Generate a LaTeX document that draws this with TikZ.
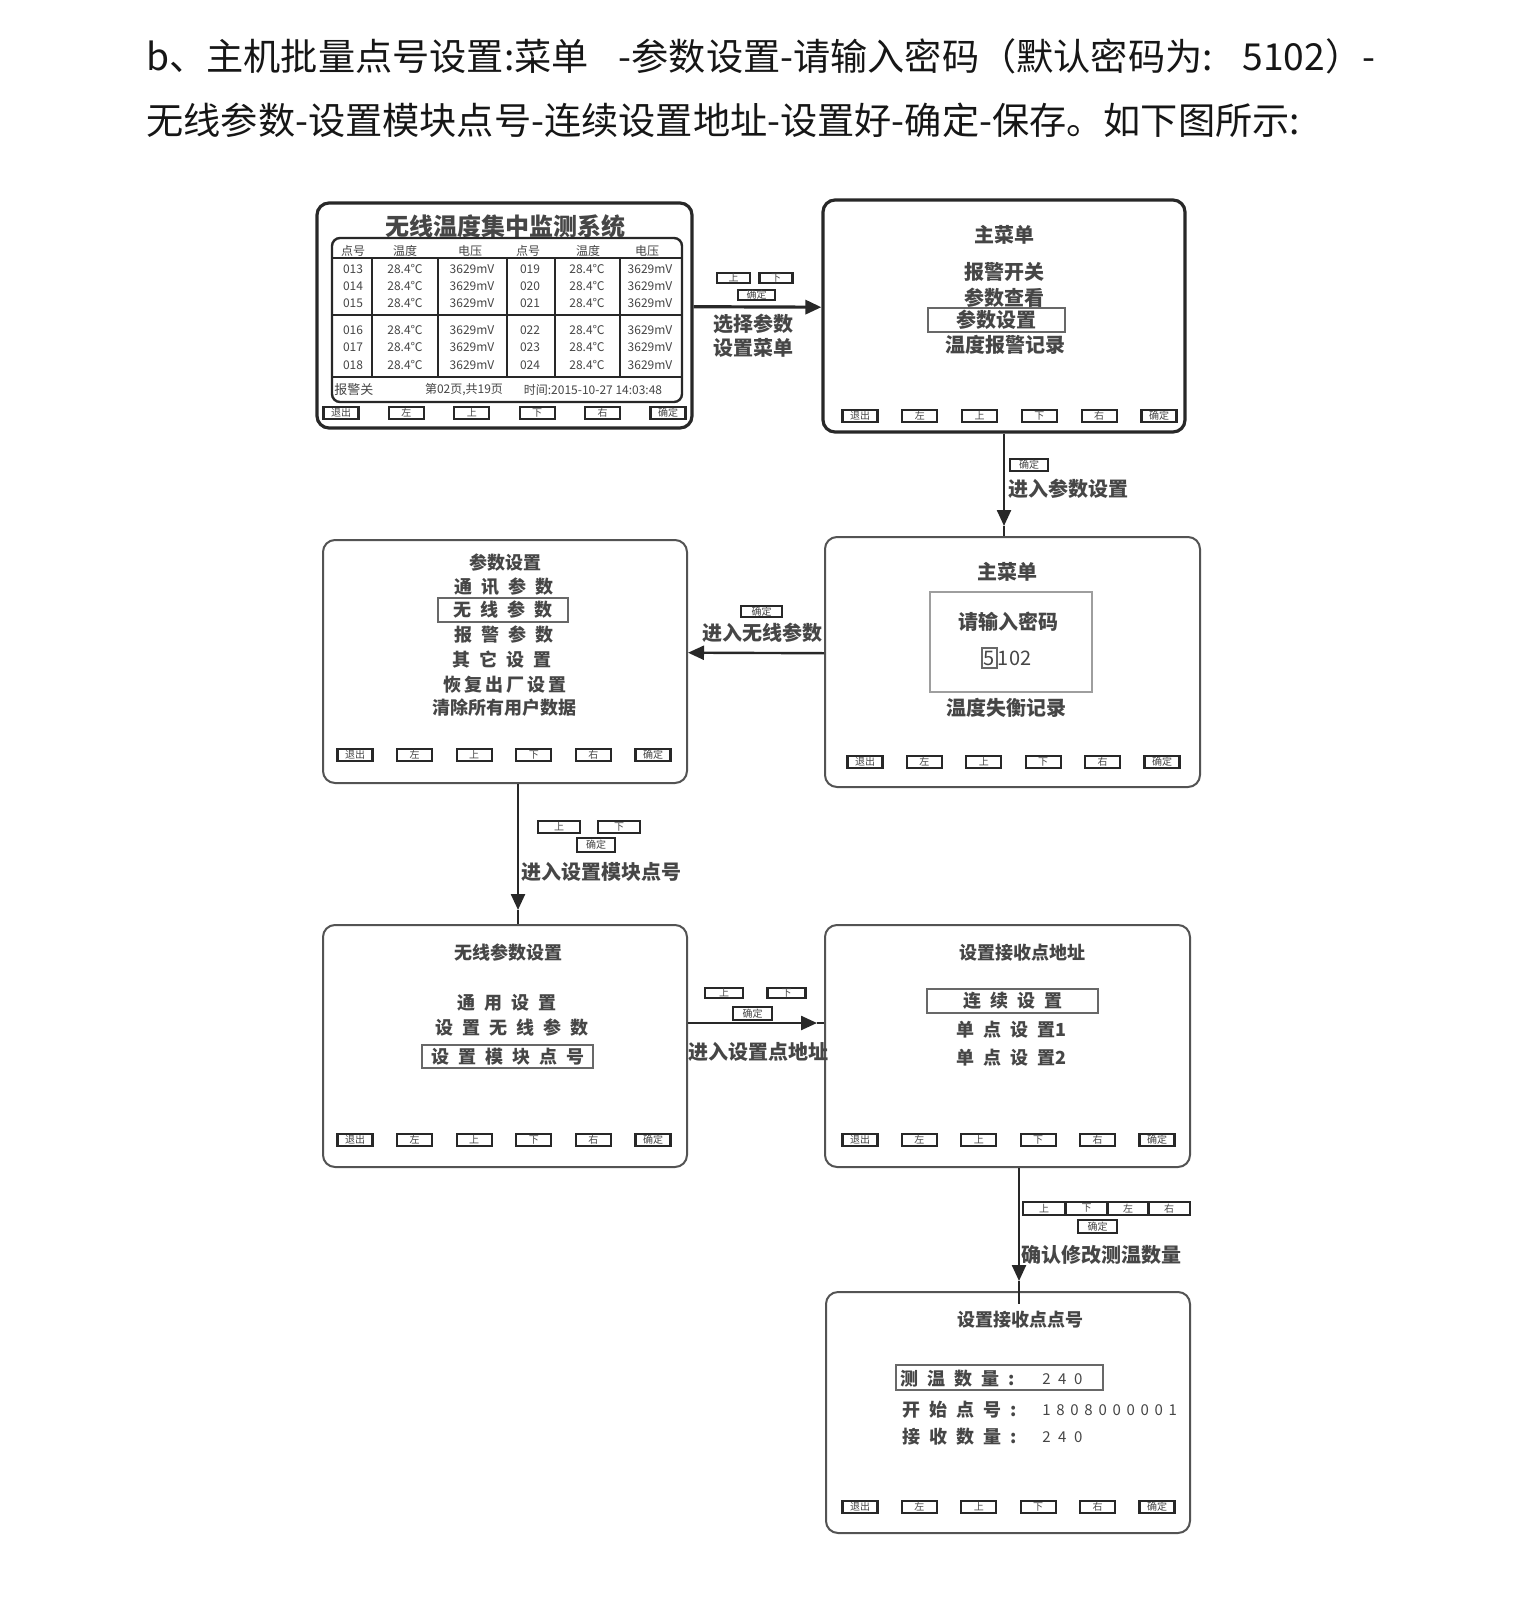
\documentclass[tikz,border=0pt]{standalone}
\usepackage{fontspec}
\setmainfont{Noto Sans CJK SC}
\usetikzlibrary{arrows.meta,calc}
\definecolor{lcdInk}{RGB}{70,70,70}
\definecolor{lcdFrame}{RGB}{40,40,40}
\definecolor{docInk}{RGB}{22,22,22}
\newcommand{\lsp}{\hspace{0.5em}}
\newcommand{\keyrow}[4]{%
  \foreach \k [count=\i] in {退出,左,上,下,右,确定}
    \node[key] (#1\i) at ({#2+(\i-1)*#3},#4) {\k};}

\begin{document}
\begin{tikzpicture}[x=0.5pt, y=-0.5pt,
    para/.style={font=\fontsize{18.6}{22}\selectfont, text=docInk, inner sep=0pt, anchor=west},
    screen/.style={rectangle, rounded corners=6pt, draw=lcdFrame!80, line width=1pt, inner sep=0pt},
    heavy screen/.style={screen, draw=lcdFrame, line width=1.6pt},
    key/.style={rectangle, draw=lcdFrame, line width=1.1pt, minimum width=17.5pt, minimum height=6pt,
                inner sep=0pt, font=\fontsize{5}{5}\selectfont, text=lcdInk},
    scr/.style={font=\fontsize{10}{12}\selectfont\bfseries, text=lcdInk, inner sep=0pt},
    scrs/.style={font=\fontsize{9}{11}\selectfont\bfseries, text=lcdInk, inner sep=0pt},
    hilite/.style={rectangle, draw=lcdFrame!70, line width=0.8pt, inner sep=0pt},
    cell/.style={font=\fontsize{6}{7}\selectfont, text=lcdInk, inner sep=0pt},
    grid/.style={draw=lcdFrame, line width=1.2pt},
    lbl/.style={font=\fontsize{10}{12}\selectfont\bfseries, text=lcdInk, inner sep=0pt},
    link/.style={draw=lcdFrame, line width=1.2pt},
    flow/.style={link, -{Triangle[length=8pt,width=7pt]}}
  ]
  \fill[white] (0,0) rectangle (1512,1600);
  \useasboundingbox (0,0) rectangle (1512,1600);

  % heading text
  \node[para] (l1) at (146,56) {b、主机批量点号设置:菜单\hspace{0.8em}-参数设置-请输入密码（默认密码为:\hspace{0.8em}5102）-};
  \node[para] (l2) at (146,120) {无线参数-设置模块点号-连续设置地址-设置好-确定-保存。如下图所示:};

  % screens
  \node[heavy screen, minimum width=187.5pt, minimum height=112.5pt] (pA) at (504.5,315.5) {};
  \node[heavy screen, minimum width=181pt, minimum height=116pt] (pB) at (1004,316) {};
  \node[screen, minimum width=182pt, minimum height=121.5pt] (pC) at (505,661.5) {};
  \node[screen, minimum width=187.5pt, minimum height=125pt] (pD) at (1012.5,662) {};
  \node[screen, minimum width=182pt, minimum height=121pt] (pE) at (505,1046) {};
  \node[screen, minimum width=182.5pt, minimum height=121pt] (pF) at (1007.5,1046) {};
  \node[screen, minimum width=182pt, minimum height=120.5pt] (pG) at (1008,1412.5) {};

  % screen A: monitoring table
  \node[font=\fontsize{12}{14}\selectfont\bfseries, text=lcdInk, inner sep=0pt] (aT) at (505,226) {无线温度集中监测系统};
  \draw[grid, rounded corners=4pt] (332,238) rectangle (682,402);
  \draw[grid] (332,258) -- (682,258);
  \draw[grid] (332,315) -- (682,315);
  \draw[grid] (332,377) -- (682,377);
  \foreach \x in {372,438,507,555,620}
    \draw[grid] (\x,258) -- (\x,377);
  \foreach \x/\h [count=\i] in {353/点号,405/温度,470/电压,528/点号,588/温度,647/电压}
    \node[cell] (h\i) at (\x,251) {\h};
  \foreach \y/\na/\nb in {269/013/019,286/014/020,303/015/021,330/016/022,347/017/023,365/018/024}{
    \node[cell] (n\na) at (353,\y) {\na};
    \node[cell] (t\na) at (405,\y) {28.4℃};
    \node[cell] (v\na) at (472,\y) {3629mV};
    \node[cell] (n\nb) at (530,\y) {\nb};
    \node[cell] (t\nb) at (587,\y) {28.4℃};
    \node[cell] (v\nb) at (650,\y) {3629mV};
  }
  \node[cell, anchor=west, font=\fontsize{6.5}{7}\selectfont] (aF1) at (334,390) {报警关};
  \node[cell] (aF2) at (464,390) {第02页,共19页};
  \node[cell] (aF3) at (593,390) {时间:2015-10-27 14:03:48};
  \keyrow{aK}{341}{65.4}{413}

  % screen B: main menu
  \node[scr] (bT) at (1004,235) {主菜单};
  \node[scr] (b1) at (1004,272) {报警开关};
  \node[scr] (b2) at (1004,298) {参数查看};
  \node[hilite, scr, minimum width=68.5pt, minimum height=12pt] (b3) at (996.5,320) {参数设置};
  \node[scr] (b4) at (1005,345) {温度报警记录};
  \keyrow{bK}{860}{59.8}{416}

  % screen C: parameter settings
  \node[scrs] (cT) at (505,563) {参数设置};
  \node[scrs] (c1) at (504,587) {通\lsp{}讯\lsp{}参\lsp{}数};
  \node[hilite, scrs, minimum width=65pt, minimum height=12pt] (c2) at (503,610) {无\lsp{}线\lsp{}参\lsp{}数};
  \node[scrs] (c3) at (504,635) {报\lsp{}警\lsp{}参\lsp{}数};
  \node[scrs] (c4) at (502,660) {其\lsp{}它\lsp{}设\lsp{}置};
  \node[scrs] (c5) at (505,685) {恢\hspace{0.17em}复\hspace{0.17em}出\hspace{0.17em}厂\hspace{0.17em}设\hspace{0.17em}置};
  \node[scrs] (c6) at (504,708) {清除所有用户数据};
  \keyrow{cK}{355}{59.6}{755}

  % screen D: password
  \node[scr] (dT) at (1007,572) {主菜单};
  \node[hilite, draw=lcdFrame!45, minimum width=81pt, minimum height=50pt] (dBox) at (1011,642) {};
  \node[scr] (d1) at (1008,622) {请输入密码};
  \node[hilite, font=\fontsize{10}{12}\selectfont, text=lcdInk, minimum width=7.5pt, minimum height=10pt] (d5) at (989.5,658) {5};
  \node[scr, anchor=west, font=\fontsize{10}{12}\selectfont] (d102) at (997.5,658) {102};
  \node[scr] (d2) at (1006,708) {温度失衡记录};
  \keyrow{dK}{865}{59.4}{762}

  % screen E: wireless parameters
  \node[scrs] (eT) at (508,953) {无线参数设置};
  \node[scrs] (e1) at (507,1003) {通\lsp{}用\lsp{}设\lsp{}置};
  \node[scrs] (e2) at (512,1028) {设\lsp{}置\lsp{}无\lsp{}线\lsp{}参\lsp{}数};
  \node[hilite, scrs, minimum width=85.5pt, minimum height=11.5pt] (e3) at (507.5,1056.5) {设\lsp{}置\lsp{}模\lsp{}块\lsp{}点\lsp{}号};
  \keyrow{eK}{355}{59.6}{1140}

  % screen F: receiver address
  \node[scrs] (fT) at (1022,953) {设置接收点地址};
  \node[hilite, scrs, minimum width=85.5pt, minimum height=12pt] (f1) at (1012.5,1001) {连\lsp{}续\lsp{}设\lsp{}置};
  \node[scrs] (f2) at (1011,1030) {单\lsp{}点\lsp{}设\lsp{}置1};
  \node[scrs] (f3) at (1011,1058) {单\lsp{}点\lsp{}设\lsp{}置2};
  \keyrow{fK}{860}{59.4}{1140}

  % screen G: receiver numbers
  \node[scrs] (gT) at (1020,1320) {设置接收点点号};
  \node[hilite, minimum width=103.5pt, minimum height=12.5pt] (gBox) at (999.5,1377.5) {};
  \node[scrs, anchor=west] (g1) at (900,1379) {测\lsp{}温\lsp{}数\lsp{}量\lsp{}:};
  \node[scrs, anchor=west, font=\fontsize{7.5}{9}\selectfont] (g1v) at (1042,1379) {2\lsp{}4\lsp{}0};
  \node[scrs, anchor=west] (g2) at (902,1410) {开\lsp{}始\lsp{}点\lsp{}号\lsp{}:};
  \node[scrs, anchor=west, font=\fontsize{7.5}{9}\selectfont] (g2v) at (1042,1410) {1\hspace{0.38em}8\hspace{0.38em}0\hspace{0.38em}8\hspace{0.38em}0\hspace{0.38em}0\hspace{0.38em}0\hspace{0.38em}0\hspace{0.38em}0\hspace{0.38em}1};
  \node[scrs, anchor=west] (g3) at (902,1437) {接\lsp{}收\lsp{}数\lsp{}量\lsp{}:};
  \node[scrs, anchor=west, font=\fontsize{7.5}{9}\selectfont] (g3v) at (1042,1437) {2\lsp{}4\lsp{}0};
  \keyrow{gK}{860}{59.4}{1507}

  % A -> B
  \draw[flow, line width=1.6pt] ([yshift=4.4pt]pA.east) -- ([yshift=4.4pt]pB.west);
  \node[key, minimum width=16.5pt, minimum height=5pt] (abU) at (733.5,278) {上};
  \node[key, minimum width=16.5pt, minimum height=5pt] (abD) at (776,278) {下};
  \node[key, minimum width=18.5pt, minimum height=5pt] (abK) at (756.5,295) {确定};
  \node[lbl, align=center] (abL) at (753,336) {选择参数\\设置菜单};

  % B -> D
  \coordinate (tBD) at (1004,526);
  \draw[flow] (pB.south) -- (tBD);
  \draw[link] (tBD) -- (pB.south |- pD.north);
  \node[key, minimum width=19pt] (bdK) at (1029,465) {确定};
  \node[lbl, anchor=west] (bdL) at (1008,489) {进入参数设置};

  % D -> C
  \draw[flow] ([yshift=4.4pt]pD.west) -- ([yshift=4.4pt]pC.east);
  \node[key, minimum width=20.5pt, minimum height=5.5pt] (dcK) at (761.5,611.5) {确定};
  \node[lbl] (dcL) at (762,633) {进入无线参数};

  % C -> E
  \coordinate (tCE) at (518,910);
  \draw[flow] ([xshift=6.5pt]pC.south) -- (tCE);
  \draw[link] (tCE) -- ([xshift=6.5pt]pE.north);
  \node[key, minimum width=21pt] (ceU) at (559,827) {上};
  \node[key, minimum width=21pt] (ceD) at (619,827) {下};
  \node[key, minimum width=19pt, minimum height=7pt] (ceK) at (596,845) {确定};
  \node[lbl, anchor=west] (ceL) at (521,872) {进入设置模块点号};

  % E -> F
  \coordinate (tEF) at (817,1023);
  \draw[flow] ([yshift=11.5pt]pE.east) -- (tEF);
  \draw[link] (tEF) -- ([yshift=11.5pt]pF.west);
  \node[key, minimum width=19pt, minimum height=5pt] (efU) at (724,993) {上};
  \node[key, minimum width=19pt, minimum height=5pt] (efD) at (786.5,993) {下};
  \node[key, minimum width=19.5pt, minimum height=6.5pt] (efK) at (752.5,1013.5) {确定};
  \node[lbl] (efL) at (758,1052) {进入设置点地址};

  % F -> G
  \coordinate (tFG) at (1019,1281);
  \draw[flow] ([xshift=5.75pt]pF.south) -- (tFG);
  \draw[link] (tFG) -- ([xshift=5.5pt,yshift=-6.5pt]pG.north);
  \foreach \k/\x [count=\i] in {上/1044,下/1086.5,左/1128,右/1169}
    \node[key, minimum width=21pt, minimum height=6.5pt] (fgK\i) at (\x,1208.5) {\k};
  \node[key, minimum width=19.5pt, minimum height=6.5pt] (fgK) at (1097.5,1226.5) {确定};
  \node[lbl, anchor=west] (fgL) at (1021,1255) {确认修改测温数量};
\end{tikzpicture}
\end{document}
